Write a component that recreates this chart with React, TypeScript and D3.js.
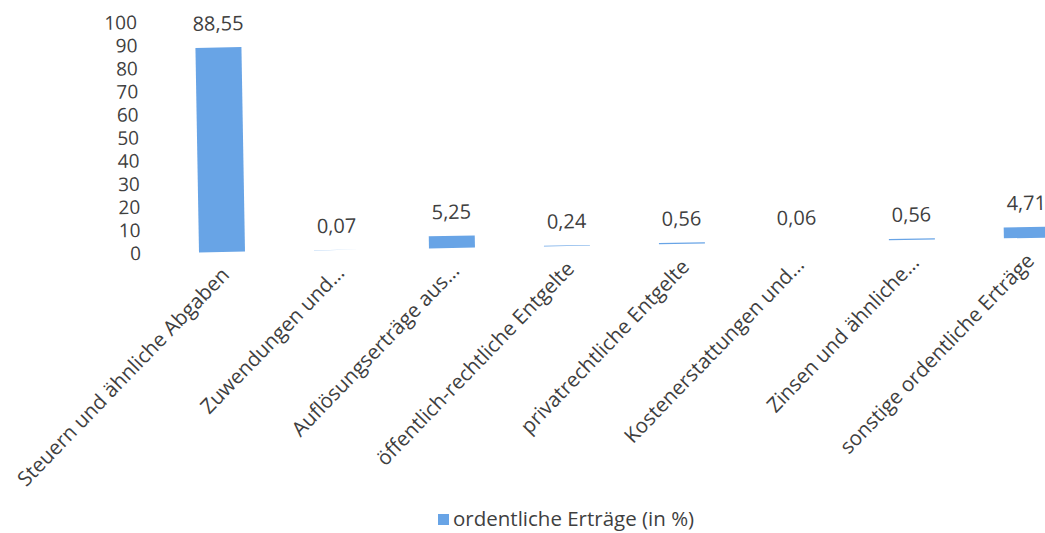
import React from "react";
import * as d3 from "d3";

const categories = [
  "Steuern und ähnliche Abgaben",
  "Zuwendungen und…",
  "Auflösungserträge aus…",
  "öffentlich-rechtliche Entgelte",
  "privatrechtliche Entgelte",
  "Kostenerstattungen und…",
  "Zinsen und ähnliche…",
  "sonstige ordentliche Erträge",
];
const values = [88.55, 0.07, 5.25, 0.24, 0.56, 0.06, 0.56, 4.71];
const valueLabels = ["88,55", "0,07", "5,25", "0,24", "0,56", "0,06", "0,56", "4,71"];
const yTicks = [0, 10, 20, 30, 40, 50, 60, 70, 80, 90, 100];
const seriesName = "ordentliche Erträge (in %)";

const W = 1045;
const H = 533;
const FONT = "'Open Sans', sans-serif";
const TEXT = "#3f3f3f";
const BAR = "#68a4e6";

export default function App() {
  const x = d3.scaleBand<string>().domain(categories).range([164.5, 1084.5]).paddingInner(0.6).paddingOuter(0.3);
  const y = d3.scaleLinear().domain([0, 100]).range([252, 21]);
  const y0 = y(0);
  const pivotX = (x(categories[0]) ?? 0) + x.bandwidth() / 2;

  return (
    <svg width={W} height={H} style={{ position: "absolute", left: 0, top: 0, background: "#fff" }} fontFamily={FONT}>
      <rect width={W} height={H} fill="#fff" />
      <g transform={`rotate(-1, ${pivotX}, ${y0})`}>
        {yTicks.map((t) => (
          <text key={t} x={141} y={y(t)} dy="0.35em" textAnchor="end" fontSize={19} fill={TEXT}>
            {t}
          </text>
        ))}
        {categories.map((c, i) => {
          const bx = x(c) ?? 0;
          const cx = bx + x.bandwidth() / 2;
          const top = y(values[i]);
          return (
            <g key={c}>
              <rect x={bx} y={top} width={x.bandwidth()} height={y0 - top} fill={BAR} />
              <text x={cx} y={top - 17} textAnchor="middle" fontSize={20} fill={TEXT}>
                {valueLabels[i]}
              </text>
              <text
                transform={`translate(${cx + 3}, ${y0 + 19}) rotate(-45)`}
                textAnchor="end"
                dy="0.35em"
                fontSize={20.5}
                fill={TEXT}
              >
                {c}
              </text>
            </g>
          );
        })}
      </g>
      <g transform="translate(438, 519)">
        <rect x={0} y={-5} width={11} height={11} fill={BAR} />
        <text x={15} y={0} dy="0.35em" fontSize={20.5} fill={TEXT}>
          {seriesName}
        </text>
      </g>
    </svg>
  );
}
